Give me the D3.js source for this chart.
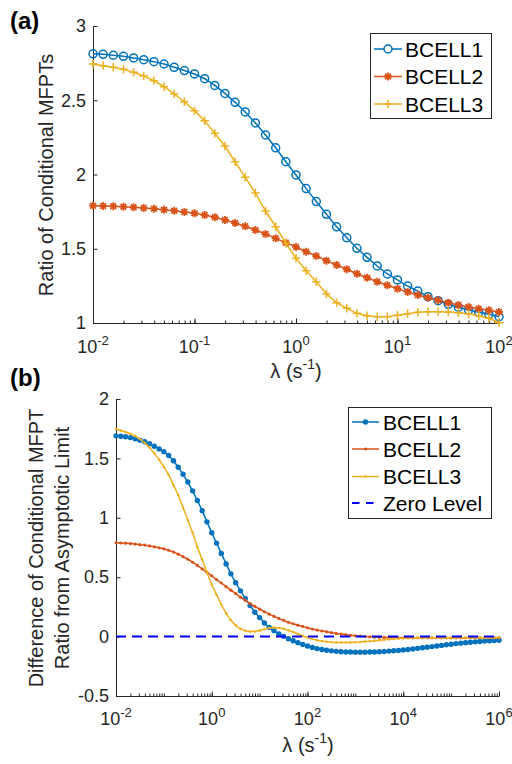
<!DOCTYPE html>
<html>
<head>
<meta charset="utf-8">
<script src="https://cdn.jsdelivr.net/npm/d3@7"></script>
<style>
body { margin: 0; background: #fff; }
text { font-family: "Liberation Sans", Arial, sans-serif; fill: #262626; }
</style>
</head>
<body>
<svg id="chart" width="512" height="764"></svg>
<script>
// series names
var seriesNames = ["BCELL1", "BCELL2", "BCELL3"];
var colors = ["#0072BD", "#D95319", "#EDB120"];

// panel (a): lambda from 1e-2 to 1e2, 10 samples per decade
var lambdaA = d3.range(41).map(function(i){ return Math.pow(10, -2 + i / 10); });
var blueA = [2.813,2.809,2.803,2.796,2.785,2.773,2.760,2.744,2.722,2.700,
             2.677,2.645,2.600,2.546,2.486,2.421,2.347,2.266,2.180,2.086,
             1.997,1.905,1.818,1.732,1.648,1.574,1.503,1.442,1.384,1.330,
             1.290,1.249,1.215,1.177,1.150,1.126,1.106,1.088,1.072,1.059,1.042];
var orangeA = [1.790,1.788,1.786,1.783,1.779,1.774,1.770,1.763,1.756,1.747,
               1.739,1.727,1.712,1.694,1.673,1.651,1.626,1.599,1.570,1.541,
               1.512,1.480,1.451,1.420,1.391,1.362,1.332,1.305,1.278,1.254,
               1.231,1.209,1.189,1.170,1.153,1.137,1.121,1.108,1.096,1.086,1.074];
var yellowA = [2.744,2.733,2.722,2.708,2.688,2.663,2.632,2.591,2.542,2.490,
               2.430,2.362,2.277,2.192,2.086,1.981,1.875,1.754,1.648,1.537,
               1.436,1.352,1.278,1.195,1.137,1.099,1.065,1.049,1.042,1.042,
               1.052,1.063,1.072,1.076,1.076,1.074,1.069,1.061,1.049,1.032,1.002];

// panel (b): lambda from 1e-2 to 1e6
var lambdaB = d3.range(81).map(function(i){ return Math.pow(10, -2 + i / 10); });
var blueB = [1.690,1.687,1.682,1.675,1.665,1.653,1.640,1.624,1.602,1.580,
             1.557,1.525,1.480,1.426,1.366,1.301,1.227,1.146,1.060,0.966,
             0.874,0.787,0.700,0.612,0.528,0.454,0.385,0.322,0.261,0.205,
             0.160,0.115,0.078,0.050,0.023,0.002,-0.018,-0.035,-0.051,-0.066,
             -0.079,-0.091,-0.101,-0.109,-0.115,-0.120,-0.124,-0.127,-0.129,-0.130,
             -0.131,-0.131,-0.131,-0.130,-0.129,-0.127,-0.125,-0.122,-0.119,-0.116,
             -0.112,-0.108,-0.104,-0.099,-0.094,-0.089,-0.084,-0.079,-0.074,-0.069,
             -0.064,-0.059,-0.055,-0.051,-0.047,-0.044,-0.041,-0.038,-0.035,-0.033,
             -0.031];
var orangeB = [0.790,0.788,0.786,0.783,0.779,0.774,0.770,0.763,0.756,0.747,
               0.739,0.727,0.712,0.694,0.673,0.651,0.626,0.599,0.570,0.541,
               0.512,0.480,0.451,0.420,0.391,0.362,0.332,0.305,0.278,0.254,
               0.231,0.209,0.189,0.170,0.153,0.137,0.121,0.108,0.096,0.086,
               0.074,0.064,0.055,0.047,0.040,0.033,0.027,0.021,0.016,0.011,
               0.007,0.004,0.001,-0.002,-0.004,-0.006,-0.007,-0.008,-0.009,-0.010,
               -0.010,-0.010,-0.010,-0.010,-0.010,-0.010,-0.010,-0.010,-0.010,-0.010,
               -0.010,-0.010,-0.010,-0.010,-0.009,-0.009,-0.009,-0.009,-0.009,-0.009,
               -0.009];
var yellowB = [1.748,1.735,1.722,1.708,1.688,1.663,1.632,1.591,1.542,1.490,
               1.430,1.362,1.277,1.192,1.086,0.981,0.875,0.754,0.648,0.537,
               0.436,0.352,0.270,0.195,0.137,0.095,0.065,0.049,0.042,0.043,
               0.052,0.063,0.072,0.076,0.074,0.066,0.054,0.039,0.022,0.006,
               -0.008,-0.020,-0.030,-0.038,-0.043,-0.047,-0.049,-0.050,-0.050,-0.049,
               -0.047,-0.045,-0.042,-0.039,-0.035,-0.031,-0.027,-0.023,-0.019,-0.016,
               -0.014,-0.012,-0.011,-0.010,-0.010,-0.010,-0.010,-0.010,-0.010,-0.010,
               -0.010,-0.010,-0.010,-0.010,-0.009,-0.009,-0.009,-0.009,-0.009,-0.009,
               -0.008];
var zeroLevel = [0, 0];

// ticks
var yTicksA = [1, 1.5, 2, 2.5, 3];
var xTicksA = [1e-2, 1e-1, 1, 1e1, 1e2];
var xExpA = ["-2", "-1", "0", "1", "2"];
var yTicksB = [-0.5, 0, 0.5, 1, 1.5, 2];
var xTicksB = [1e-2, 1, 1e2, 1e4, 1e6];
var xExpB = ["-2", "0", "2", "4", "6"];

var svg = d3.select("#chart");

function minorTicks(lo, hi){
    var out = [];
    for (var e = lo; e < hi; e++){
        for (var m = 1; m < 10; m++){
            out.push(m * Math.pow(10, e));
        }
    }
    return out;
}

function drawAxes(g, x, y, yTicks, xTicks, xExp, minors, tickBase){
    // minor ticks on log axis
    g.append("g")
        .attr("transform", `translate(0,${y.range()[0]})`)
        .call(d3.axisBottom(x).tickValues(minors).tickSize(-2.5).tickFormat(""))
        .call(function(a){ a.select(".domain").remove(); a.selectAll("line").attr("stroke", "#262626"); });

    var xa = g.append("g")
        .attr("transform", `translate(0,${y.range()[0]})`)
        .call(d3.axisBottom(x).tickValues(xTicks).tickSizeInner(-4.5).tickSizeOuter(0).tickFormat(""));
    xa.select(".domain").attr("stroke", "#262626");
    xa.selectAll("line").attr("stroke", "#262626");

    var lab = g.selectAll(".xlab")
        .data(xTicks)
        .join("text")
        .attr("class", "xlab")
        .attr("x", function(d){ return x(d); })
        .attr("y", tickBase)
        .attr("text-anchor", "middle")
        .style("font-size", "18px");
    lab.append("tspan").text("10");
    lab.append("tspan").attr("dy", -8).style("font-size", "13px")
        .text(function(d, i){ return xExp[i]; });

    var ya = g.append("g")
        .attr("transform", `translate(${x.range()[0]},0)`)
        .call(d3.axisLeft(y).tickValues(yTicks).tickSizeInner(-4.5).tickSizeOuter(0).tickPadding(7)
            .tickFormat(function(d){ return String(d); }));
    ya.select(".domain").attr("stroke", "#262626");
    ya.selectAll("line").attr("stroke", "#262626");
    ya.selectAll("text").style("font-size", "18px").attr("fill", "#262626")
        .style("font-family", "Liberation Sans, Arial, sans-serif");
}

function xLabel(g, cx, base){
    var t = g.append("text").attr("x", cx).attr("y", base)
        .attr("text-anchor", "middle").style("font-size", "20px");
    t.append("tspan").text("\u03bb (s");
    t.append("tspan").attr("dy", -9).style("font-size", "14px").text("-1");
    t.append("tspan").attr("dy", 9).text(")");
}

function markerPath(kind, s){
    var d = s * 0.72;
    if (kind === "plus") return `M${-s},0H${s}M0,${-s}V${s}`;
    return `M${-s},0H${s}M0,${-s}V${s}M${-d},${-d}L${d},${d}M${-d},${d}L${d},${-d}`;
}

// ---------------- panel (a) ----------------
var xA = d3.scaleLog().domain([1e-2, 1e2]).range([93, 499]);
var yA = d3.scaleLinear().domain([1, 3]).range([323, 26]);
var gA = svg.append("g");

drawAxes(gA, xA, yA, yTicksA, xTicksA, xExpA, minorTicks(-2, 2), 353);

var seriesA = [blueA, orangeA, yellowA];
var lineA = d3.line().x(function(d){ return xA(d[0]); }).y(function(d){ return yA(d[1]); });

seriesA.forEach(function(vals, k){
    var pts = lambdaA.map(function(l, i){ return [l, vals[i]]; });
    gA.append("path").datum(pts)
        .attr("d", lineA).attr("fill", "none")
        .attr("stroke", colors[k]).attr("stroke-width", 1.5);
    if (k === 0){
        gA.selectAll(".mk0").data(pts).join("circle").attr("class", "mk0")
            .attr("cx", function(d){ return xA(d[0]); })
            .attr("cy", function(d){ return yA(d[1]); })
            .attr("r", 4).attr("fill", "none")
            .attr("stroke", colors[k]).attr("stroke-width", 1.5);
    } else {
        gA.selectAll(".mk" + k).data(pts).join("path").attr("class", "mk" + k)
            .attr("d", markerPath(k === 1 ? "star" : "plus", k === 1 ? 4 : 4.2))
            .attr("transform", function(d){ return `translate(${xA(d[0])},${yA(d[1])})`; })
            .attr("fill", "none").attr("stroke", colors[k]).attr("stroke-width", k === 1 ? 1.8 : 1.5);
    }
});

gA.append("text").attr("x", 46).attr("y", 175)
    .attr("transform", "rotate(-90,46,175)")
    .attr("text-anchor", "middle").attr("dy", "0.35em")
    .style("font-size", "20px").text("Ratio of Conditional MFPTs");
xLabel(gA, 296, 378);

gA.append("text").attr("x", 10).attr("y", 29)
    .style("font-size", "24px").style("font-weight", "bold").style("fill", "#000").text("(a)");

// legend (a)
var legA = gA.append("g");
legA.append("rect").attr("x", 370.5).attr("y", 33.5).attr("width", 121).attr("height", 85)
    .attr("fill", "#fff").attr("stroke", "#262626").attr("stroke-width", 1);
var legYA = [49, 76.5, 104];
seriesNames.forEach(function(name, k){
    var yy = legYA[k];
    legA.append("line").attr("x1", 374).attr("x2", 402).attr("y1", yy).attr("y2", yy)
        .attr("stroke", colors[k]).attr("stroke-width", 1.5);
    if (k === 0){
        legA.append("circle").attr("cx", 388).attr("cy", yy).attr("r", 4)
            .attr("fill", "#fff").attr("stroke", colors[k]).attr("stroke-width", 1.5);
    } else {
        legA.append("path").attr("d", markerPath(k === 1 ? "star" : "plus", k === 1 ? 4 : 4.2))
            .attr("transform", `translate(388,${yy})`)
            .attr("fill", "none").attr("stroke", colors[k]).attr("stroke-width", k === 1 ? 1.8 : 1.5);
    }
    legA.append("text").attr("x", 405).attr("y", yy).attr("dy", "0.36em")
        .style("font-size", "21px").style("fill", "#000").text(name);
});

// ---------------- panel (b) ----------------
var xB = d3.scaleLog().domain([1e-2, 1e6]).range([116, 499]);
var yB = d3.scaleLinear().domain([-0.5, 2]).range([696, 399]);
var gB = svg.append("g");

drawAxes(gB, xB, yB, yTicksB, xTicksB, xExpB, minorTicks(-2, 6), 725);

var seriesB = [blueB, orangeB, yellowB];
var dotR = [2.7, 1.6, 1.3];
var lineB = d3.line().x(function(d){ return xB(d[0]); }).y(function(d){ return yB(d[1]); });

seriesB.forEach(function(vals, k){
    var pts = lambdaB.map(function(l, i){ return [l, vals[i]]; });
    gB.append("path").datum(pts)
        .attr("d", lineB).attr("fill", "none")
        .attr("stroke", colors[k]).attr("stroke-width", 1.5);
    gB.selectAll(".dot" + k).data(pts).join("circle").attr("class", "dot" + k)
        .attr("cx", function(d){ return xB(d[0]); })
        .attr("cy", function(d){ return yB(d[1]); })
        .attr("r", dotR[k]).attr("fill", colors[k]);
});

gB.append("line")
    .attr("x1", xB(1e-2)).attr("x2", xB(1e6))
    .attr("y1", yB(zeroLevel[0])).attr("y2", yB(zeroLevel[1]))
    .attr("stroke", "#0000FF").attr("stroke-width", 2).attr("stroke-dasharray", "10,6");

var yl = gB.append("text").attr("transform", "translate(0,548) rotate(-90)")
    .attr("text-anchor", "middle").style("font-size", "20px");
yl.append("tspan").attr("x", 0).attr("y", 43).text("Difference of Conditional MFPT");
yl.append("tspan").attr("x", 0).attr("y", 69).text("Ratio from Asymptotic Limit");

xLabel(gB, 308, 752);

gB.append("text").attr("x", 10).attr("y", 386)
    .style("font-size", "24px").style("font-weight", "bold").style("fill", "#000").text("(b)");

// legend (b)
var legB = gB.append("g");
legB.append("rect").attr("x", 348.5).attr("y", 407.5).attr("width", 143).attr("height", 111)
    .attr("fill", "#fff").attr("stroke", "#262626").attr("stroke-width", 1);
var legYB = [422, 449, 476.5, 503];
seriesNames.forEach(function(name, k){
    var yy = legYB[k];
    legB.append("line").attr("x1", 352).attr("x2", 379).attr("y1", yy).attr("y2", yy)
        .attr("stroke", colors[k]).attr("stroke-width", 1.5);
    legB.append("circle").attr("cx", 365.5).attr("cy", yy).attr("r", dotR[k])
        .attr("fill", colors[k]);
    legB.append("text").attr("x", 383).attr("y", yy).attr("dy", "0.36em")
        .style("font-size", "21px").style("fill", "#000").text(name);
});
legB.append("line").attr("x1", 352).attr("x2", 379).attr("y1", legYB[3]).attr("y2", legYB[3])
    .attr("stroke", "#0000FF").attr("stroke-width", 2).attr("stroke-dasharray", "7.5,6.5");
legB.append("text").attr("x", 383).attr("y", legYB[3]).attr("dy", "0.36em")
    .style("font-size", "21px").style("fill", "#000").text("Zero Level");
</script>
</body>
</html>
